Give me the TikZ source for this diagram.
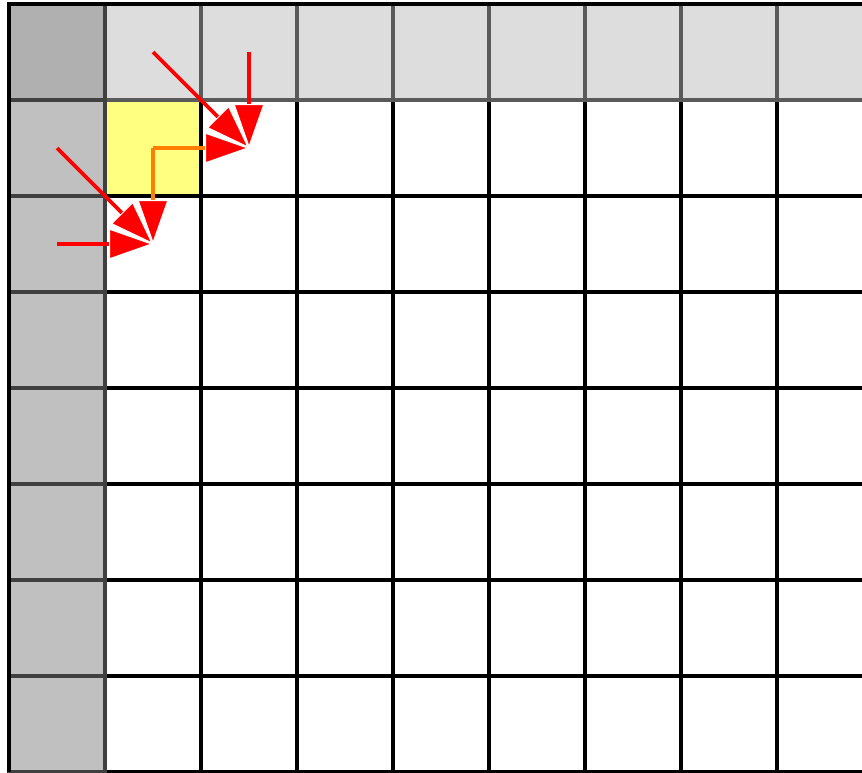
\documentclass[tikz,border=0pt]{standalone}
\usetikzlibrary{arrows.meta}
\definecolor{hdrfill}{HTML}{DDDDDD}
\definecolor{hdrline}{HTML}{5A5A5A}
\definecolor{sidefill}{HTML}{C0C0C0}
\definecolor{sideline}{HTML}{404040}
\definecolor{cornerfill}{HTML}{B0B0B0}
\definecolor{hlfill}{HTML}{FFFF80}
\definecolor{hlline}{HTML}{303030}
\definecolor{arrred}{HTML}{FF0000}
\definecolor{arrorange}{HTML}{FF8000}
\begin{document}
\begin{tikzpicture}[x=0.75pt,y=-0.75pt,
  basecell/.style={rectangle,minimum size=72pt,inner sep=0pt,outer sep=0pt,line width=2.6pt},
  cell/.style={basecell,draw=black,fill=white},
  hl/.style={basecell,draw=hlline,fill=hlfill},
  hdr/.style={basecell,draw=hdrline,fill=hdrfill},
  side/.style={basecell,draw=sideline,fill=sidefill},
  corner/.style={basecell,draw=sideline,fill=cornerfill},
  tipstyle/.style={-{Triangle[length=33pt,width=23pt,line width=0.75pt,color=white,fill=arrred]}},
  arr/.style={tipstyle,draw=arrred,line width=2.7pt},
  oarr/.style={tipstyle,draw=arrorange,line width=2.6pt}]
\useasboundingbox (0,0) rectangle (862,772);
\clip (0,0) rectangle (862,772);
% main grid
\foreach \r in {1,...,7}{
  \foreach \c in {1,...,8}{
    \ifnum\r\c=11 \def\st{hl}\else\def\st{cell}\fi
    \node[\st] (c-\r-\c) at ({57+96*\c},{52+96*\r}) {};
  }
}
% header row
\foreach \c in {1,...,8}{
  \node[hdr] (c-0-\c) at ({57+96*\c},52) {};
}
% side column
\foreach \r in {1,...,7}{
  \node[side] (c-\r-0) at (57,{52+96*\r}) {};
}
\node[corner] (c-0-0) at (57,52) {};
% outer frame
\draw[line width=2.6pt] (c-7-0.south west) -- (c-0-0.north west) -- (c-0-8.north east);
% arrows
\draw[arr] (c-0-1.center) -- (c-1-2.center);
\draw[arr] (c-0-2.center) -- (c-1-2.center);
\draw[arr] (c-1-0.center) -- (c-2-1.center);
\draw[arr] (c-2-0.center) -- (c-2-1.center);
\draw[oarr] (c-1-1.center) -- (c-1-2.center);
\draw[oarr] (c-1-1.center) -- (c-2-1.center);
\end{tikzpicture}
\end{document}
